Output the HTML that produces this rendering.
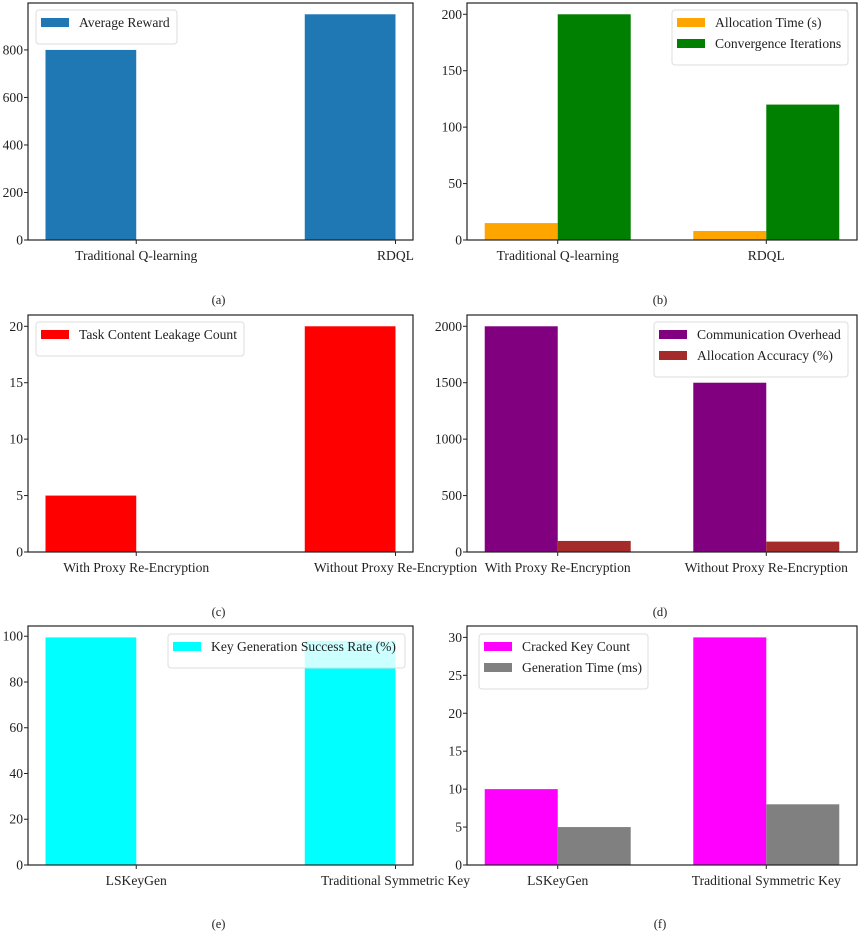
<!DOCTYPE html>
<html><head><meta charset="utf-8"><style>
body{margin:0;background:#fff;}
svg text{font-family:"Liberation Serif","DejaVu Serif",serif;fill:#222;}
</style></head><body>
<svg id="fig" width="865" height="934" viewBox="0 0 865 934" xmlns="http://www.w3.org/2000/svg"></svg>
<script>
// Panel (a)
const catsA = ["Traditional Q-learning", "RDQL"];
const rewardA = [800, 950];
const ticksA = [0, 200, 400, 600, 800];
// Panel (b)
const catsB = ["Traditional Q-learning", "RDQL"];
const allocTimeB = [15, 8];
const convIterB = [200, 120];
const ticksB = [0, 50, 100, 150, 200];
// Panel (c)
const catsC = ["With Proxy Re-Encryption", "Without Proxy Re-Encryption"];
const leakC = [5, 20];
const ticksC = [0, 5, 10, 15, 20];
// Panel (d)
const catsD = ["With Proxy Re-Encryption", "Without Proxy Re-Encryption"];
const overheadD = [2000, 1500];
const accuracyD = [98, 92];
const ticksD = [0, 500, 1000, 1500, 2000];
// Panel (e)
const catsE = ["LSKeyGen", "Traditional Symmetric Key"];
const successE = [99.5, 98];
const ticksE = [0, 20, 40, 60, 80, 100];
// Panel (f)
const catsF = ["LSKeyGen", "Traditional Symmetric Key"];
const crackedF = [10, 30];
const genTimeF = [5, 8];
const ticksF = [0, 5, 10, 15, 20, 25, 30];

const NS = "http://www.w3.org/2000/svg";
const svg = document.getElementById('fig');
function mk(tag, attrs, parent) {
  const e = document.createElementNS(NS, tag);
  for (const k in attrs) e.setAttribute(k, attrs[k]);
  (parent || svg).appendChild(e);
  return e;
}
const FS = 13.6;

function panel(p) {
  const g = mk('g', {});
  
  
  const w = 0.35;
  const nS = p.series.length;
  const lo = -w;
  const hi = nS === 1 ? 1 : 1 + w;
  const span = hi - lo;
  const x0 = lo - 0.05 * span, x1 = hi + 0.05 * span;
  let ymax = 0;
  p.series.forEach(s => s.values.forEach(v => { ymax = Math.max(ymax, v); }));
  ymax *= 1.05;
  const sx = v => p.L + (v - x0) / (x1 - x0) * (p.R - p.L);
  const sy = v => p.B - v / ymax * (p.B - p.T);
  const clipId = 'clip' + p.id;
  const cp = mk('clipPath', { id: clipId }, g);
  mk('rect', { x: p.L, y: p.T, width: p.R - p.L, height: p.B - p.T }, cp);
  p.series.forEach((s, si) => {
    s.values.forEach((v, i) => {
      const off = nS === 1 ? -w : (si === 0 ? -w : 0);
      const r = mk('rect', { x: sx(i + off), y: sy(v), width: sx(i + off + w) - sx(i + off), height: sy(0) - sy(v), fill: s.color, 'clip-path': 'url(#' + clipId + ')' }, g);
      
      
    });
  });
  const fr = mk('rect', { x: p.L, y: p.T, width: p.R - p.L, height: p.B - p.T, fill: 'none', stroke: '#222', 'stroke-width': 1.2 }, g);
  
  
  p.ticks.forEach(t => {
    mk('line', { x1: p.L - 4, x2: p.L, y1: sy(t), y2: sy(t), stroke: '#222', 'stroke-width': 1 }, g);
    const tx = mk('text', { x: p.L - 5, y: sy(t) + 4.5, 'text-anchor': 'end', 'font-size': FS }, g);
    tx.textContent = t;
    
    
  });
  p.cats.forEach((c, i) => {
    mk('line', { x1: sx(i), x2: sx(i), y1: p.B, y2: p.B + 4, stroke: '#222', 'stroke-width': 1 }, g);
    const tx = mk('text', { x: sx(i), y: p.B + 20, 'text-anchor': 'middle', 'font-size': FS }, g);
    tx.textContent = c;
    
    
  });
  const lg = mk('g', {}, g);
  
  
  const lh = 10 + 21 * p.series.length + 3;
  mk('rect', { x: p.lx, y: p.ly, width: p.lw, height: lh, rx: 3, fill: 'rgba(255,255,255,0.8)', stroke: '#ddd' }, lg);
  p.series.forEach((s, si) => {
    const yy = p.ly + 8 + si * 21;
    mk('rect', { x: p.lx + 5, y: yy, width: 28, height: 9, fill: s.color }, lg);
    const tx = mk('text', { x: p.lx + 43, y: yy + 9, 'font-size': FS }, lg);
    tx.textContent = s.label;
    
    
  });
  const cap = mk('text', { x: (p.L + p.R) / 2 - 2, y: p.capY, 'text-anchor': 'middle', 'font-size': 12.5 }, g);
  cap.textContent = '(' + p.id + ')';
  
  
}

panel({ id: 'a', L: 28, R: 413, T: 3, B: 240, cats: catsA, ticks: ticksA, capY: 304, lx: 36, ly: 10, lw: 141,
  series: [{ key: 'reward', label: 'Average Reward', color: '#1f77b4', values: rewardA }] });
panel({ id: 'b', L: 467, R: 857, T: 3, B: 240, cats: catsB, ticks: ticksB, capY: 304, lx: 672, ly: 10, lw: 176,
  series: [{ key: 'alloc', label: 'Allocation Time (s)', color: '#ffa500', values: allocTimeB },
           { key: 'conv', label: 'Convergence Iterations', color: '#008000', values: convIterB }] });
panel({ id: 'c', L: 28, R: 413, T: 315, B: 552, cats: catsC, ticks: ticksC, capY: 616, lx: 36, ly: 322, lw: 208,
  series: [{ key: 'leak', label: 'Task Content Leakage Count', color: '#ff0000', values: leakC }] });
panel({ id: 'd', L: 467, R: 857, T: 315, B: 552, cats: catsD, ticks: ticksD, capY: 616, lx: 654, ly: 322, lw: 194,
  series: [{ key: 'overhead', label: 'Communication Overhead', color: '#800080', values: overheadD },
           { key: 'acc', label: 'Allocation Accuracy (%)', color: '#a52a2a', values: accuracyD }] });
panel({ id: 'e', L: 28, R: 413, T: 626, B: 865, cats: catsE, ticks: ticksE, capY: 928, lx: 168, ly: 634, lw: 237,
  series: [{ key: 'succ', label: 'Key Generation Success Rate (%)', color: '#00ffff', values: successE }] });
panel({ id: 'f', L: 467, R: 857, T: 626, B: 865, cats: catsF, ticks: ticksF, capY: 928, lx: 479, ly: 634, lw: 169,
  series: [{ key: 'cracked', label: 'Cracked Key Count', color: '#ff00ff', values: crackedF },
           { key: 'gen', label: 'Generation Time (ms)', color: '#808080', values: genTimeF }] });
</script>
</body></html>
